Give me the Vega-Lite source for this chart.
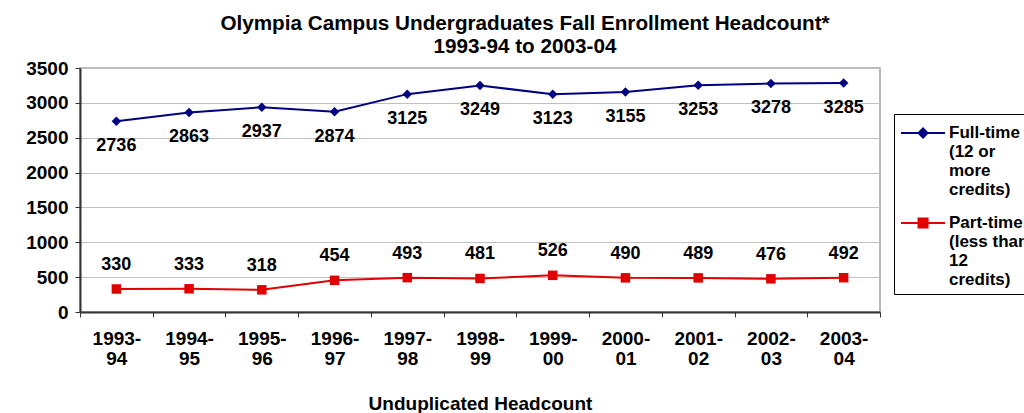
{
  "$schema": "https://vega.github.io/schema/vega-lite/v6.json",
  "width": 800,
  "height": 244,
  "autosize": "none",
  "padding": {"left": 80, "top": 68, "right": 144, "bottom": 101},
  "background": "white",
  "config": {
    "view": {"stroke": "#a0a0a0", "strokeWidth": 1.5},
    "font": "Liberation Sans"
  },
  "title": {
    "text": ["Olympia Campus Undergraduates Fall Enrollment Headcount*", "1993-94 to 2003-04"],
    "font": "Liberation Sans",
    "fontSize": 20.7,
    "fontWeight": "bold",
    "lineHeight": 23,
    "color": "black",
    "anchor": "middle",
    "frame": "group",
    "dx": 45,
    "offset": 1
  },
  "data": {
    "values": [
      {"year": "1993-94", "series": "Full-time", "value": 2736},
      {"year": "1994-95", "series": "Full-time", "value": 2863},
      {"year": "1995-96", "series": "Full-time", "value": 2937},
      {"year": "1996-97", "series": "Full-time", "value": 2874},
      {"year": "1997-98", "series": "Full-time", "value": 3125},
      {"year": "1998-99", "series": "Full-time", "value": 3249},
      {"year": "1999-00", "series": "Full-time", "value": 3123},
      {"year": "2000-01", "series": "Full-time", "value": 3155},
      {"year": "2001-02", "series": "Full-time", "value": 3253},
      {"year": "2002-03", "series": "Full-time", "value": 3278},
      {"year": "2003-04", "series": "Full-time", "value": 3285},
      {"year": "1993-94", "series": "Part-time", "value": 330},
      {"year": "1994-95", "series": "Part-time", "value": 333},
      {"year": "1995-96", "series": "Part-time", "value": 318},
      {"year": "1996-97", "series": "Part-time", "value": 454},
      {"year": "1997-98", "series": "Part-time", "value": 493},
      {"year": "1998-99", "series": "Part-time", "value": 481},
      {"year": "1999-00", "series": "Part-time", "value": 526},
      {"year": "2000-01", "series": "Part-time", "value": 490},
      {"year": "2001-02", "series": "Part-time", "value": 489},
      {"year": "2002-03", "series": "Part-time", "value": 476},
      {"year": "2003-04", "series": "Part-time", "value": 492}
    ]
  },
  "encoding": {
    "x": {
      "field": "year",
      "type": "nominal",
      "sort": null,
      "scale": {"paddingInner": 0, "paddingOuter": 0},
      "axis": {
        "title": "Unduplicated Headcount",
        "titleFont": "Liberation Sans",
        "titleFontSize": 19,
        "titleFontWeight": "bold",
        "titleColor": "black",
        "titlePadding": 26,
        "labelAngle": 0,
        "labelExpr": "[slice(datum.label, 0, 5), slice(datum.label, 5)]",
        "labelFont": "Liberation Sans",
        "labelFontSize": 19,
        "labelFontWeight": "bold",
        "labelColor": "black",
        "labelLineHeight": 20,
        "labelPadding": 12,
        "tickBand": "extent",
        "tickSize": 5,
        "tickColor": "#333333",
        "domainColor": "#333333",
        "domainWidth": 2,
        "grid": false
      }
    },
    "y": {
      "field": "value",
      "type": "quantitative",
      "scale": {"domain": [0, 3500], "nice": false},
      "axis": {
        "title": null,
        "format": "d",
        "values": [0, 500, 1000, 1500, 2000, 2500, 3000, 3500],
        "labelFont": "Liberation Sans",
        "labelFontSize": 19,
        "labelFontWeight": "bold",
        "labelColor": "black",
        "labelPadding": 7,
        "tickSize": 5,
        "tickColor": "#333333",
        "domainColor": "#333333",
        "domainWidth": 2,
        "gridColor": "#c0c0c0",
        "gridWidth": 1
      }
    },
    "color": {
      "field": "series",
      "type": "nominal",
      "scale": {"domain": ["Full-time", "Part-time"], "range": ["#000080", "#e00000"]},
      "legend": {
        "orient": "none",
        "legendX": 814,
        "legendY": 46,
        "title": null,
        "strokeColor": "black",
        "fillColor": "white",
        "padding": 6,
        "labelFont": "Liberation Sans",
        "labelFontSize": 17,
        "labelFontWeight": "bold",
        "labelColor": "black",
        "labelLineHeight": 18,
        "labelLimit": 300,
        "labelOffset": 17,
        "labelExpr": "datum.label == 'Full-time' ? ['Full-time', '(12 or', 'more', 'credits)'] : ['Part-time', '(less than', '12', 'credits)']",
        "symbolSize": 900,
        "rowPadding": 12,
        "encode": {
          "symbols": {
            "update": {
              "shape": {"signal": "datum.value == 'Full-time' ? 'M-1,-0.2H1.93M0.47,-0.5L0.77,-0.2L0.47,0.1L0.17,-0.2Z' : 'M-1,-0.2H1.93M0.17,-0.5H0.77V0.1H0.17Z'"},
              "fill": {"scale": "color", "field": "value"},
              "stroke": {"scale": "color", "field": "value"},
              "strokeWidth": {"value": 2},
              "opacity": {"value": 1}
            }
          },
          "labels": {
            "update": {"dy": {"value": -3}}
          }
        }
      }
    }
  },
  "layer": [
    {"mark": {"type": "line", "strokeWidth": 2}},
    {
      "transform": [{"filter": "datum.series == 'Full-time'"}],
      "mark": {"type": "point", "filled": true, "size": 90, "opacity": 1, "shape": "diamond"}
    },
    {
      "transform": [{"filter": "datum.series == 'Part-time'"}],
      "mark": {"type": "point", "filled": true, "size": 90, "opacity": 1, "shape": "square"}
    },
    {
      "transform": [{"filter": "datum.series == 'Full-time'"}],
      "mark": {"type": "text", "font": "Liberation Sans", "fontSize": 18, "fontWeight": "bold", "color": "black", "dy": 25},
      "encoding": {"text": {"field": "value", "type": "quantitative"}, "color": {"value": "black"}}
    },
    {
      "transform": [{"filter": "datum.series == 'Part-time'"}],
      "mark": {"type": "text", "font": "Liberation Sans", "fontSize": 18, "fontWeight": "bold", "color": "black", "dy": -24},
      "encoding": {"text": {"field": "value", "type": "quantitative"}, "color": {"value": "black"}}
    }
  ]
}
